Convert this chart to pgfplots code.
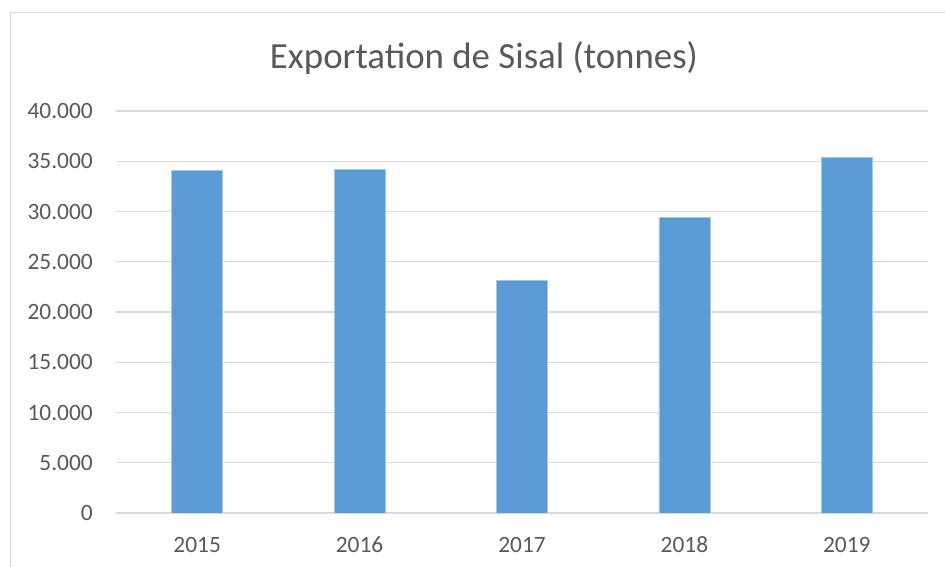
\documentclass[border=0pt]{standalone}
\usepackage{pgfplots}
\pgfplotsset{compat=1.18}
\usepackage{fontspec}
\setmainfont{Carlito}
\definecolor{barblue}{HTML}{5B9BD5}
\definecolor{gridgray}{HTML}{D9D9D9}
\definecolor{textgray}{HTML}{595959}
\begin{document}
\begin{tikzpicture}
\path[use as bounding box] (0,0) rectangle (945bp,567bp);
\draw[gridgray, line width=1bp] (10.5bp,-2bp) -- (10.5bp,554bp) -- (950bp,554bp);
\node[anchor=base, text=textgray, font=\fontsize{37}{44}\selectfont, inner sep=0pt] at (484bp,498bp) {Exportation de Sisal (tonnes)};
\begin{axis}[
  at={(116bp,54bp)}, anchor=south west,
  scale only axis, width=812bp, height=402bp,
  xmin=-0.5, xmax=4.5, ymin=0, ymax=40000,
  xtick={0,1,2,3,4},
  xticklabels={2015,2016,2017,2018,2019},
  ytick={0,5000,10000,15000,20000,25000,30000,35000,40000},
  scaled y ticks=false,
  /pgf/number format/fixed,
  /pgf/number format/1000 sep={.},
  /pgf/number format/assume math mode=true,
  tick label style={text=textgray, font=\fontsize{23.5}{28}\selectfont, inner sep=0pt},
  yticklabel style={anchor=east, xshift=-23bp},
  xticklabel style={anchor=base, yshift=-39bp},
  axis line style={draw=none},
  major tick length=0pt,
  ymajorgrids,
  grid style={gridgray, line width=1.2bp},
  ybar, bar width=51bp,
]
\addplot[fill=barblue, draw=barblue!55!white, line width=0.6bp] coordinates {
  (0,34120) (1,34190) (2,23130) (3,29420) (4,35390)
};
\end{axis}
\end{tikzpicture}
\end{document}
